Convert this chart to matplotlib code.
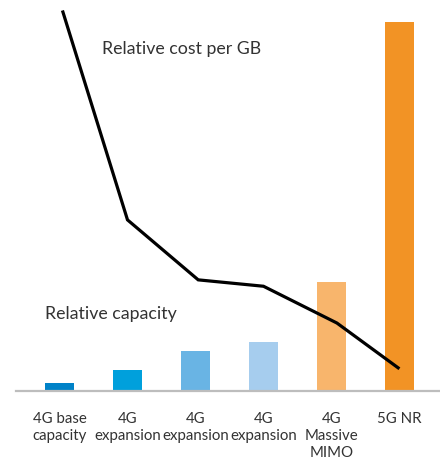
import matplotlib
matplotlib.use("Agg")
import matplotlib.pyplot as plt

# categories (tick labels)
categories = ["4G base\ncapacity", "4G\nexpansion", "4G\nexpansion",
              "4G\nexpansion", "4G\nMassive\nMIMO", "5G NR"]

# relative capacity (bars)
capacity = [1.0, 2.6, 5.0, 6.1, 13.6, 46.1]
bar_colors = ["#0082C8", "#00A0DC", "#69B4E4", "#A6CDEE", "#F8B56C", "#F29325"]

# relative cost per GB (line), x in category units
cost_x = [0.05, 1.0, 2.04, 3.0, 4.08, 4.98]
cost = [47.4, 21.4, 13.9, 13.1, 8.5, 2.9]

text_color = "#333333"
plt.rcParams["font.family"] = ["Lato", "DejaVu Sans"]

fig = plt.figure(figsize=(4.4, 4.59), dpi=100)
ax = fig.add_axes([16 / 440, 68 / 459, 424 / 440, 391 / 459])

x = list(range(len(categories)))
ax.bar(x, capacity, width=0.426, color=bar_colors, zorder=2)
ax.plot(cost_x, cost, color="black", lw=2.3, solid_joinstyle="miter", zorder=3)

ax.set_xlim(-0.64, 5.596)
ax.set_ylim(0, 48.9)

for side in ["top", "right", "left"]:
    ax.spines[side].set_visible(False)
ax.spines["bottom"].set_color("#BDBDBD")
ax.spines["bottom"].set_linewidth(1.6)
ax.spines["bottom"].set_zorder(4)

ax.set_yticks([])
ax.set_xticks(x)
ax.set_xticklabels(categories, fontsize=10.8, color=text_color, linespacing=1.28, va="top")
ax.tick_params(axis="x", length=0, pad=15)

ax.text(0.625, 42.1, "Relative cost per GB", fontsize=12.8, color=text_color,
        ha="left", va="baseline")
ax.text(-0.213, 9.0, "Relative capacity", fontsize=12.8, color=text_color,
        ha="left", va="baseline")

fig.savefig("out.png", dpi=100)
